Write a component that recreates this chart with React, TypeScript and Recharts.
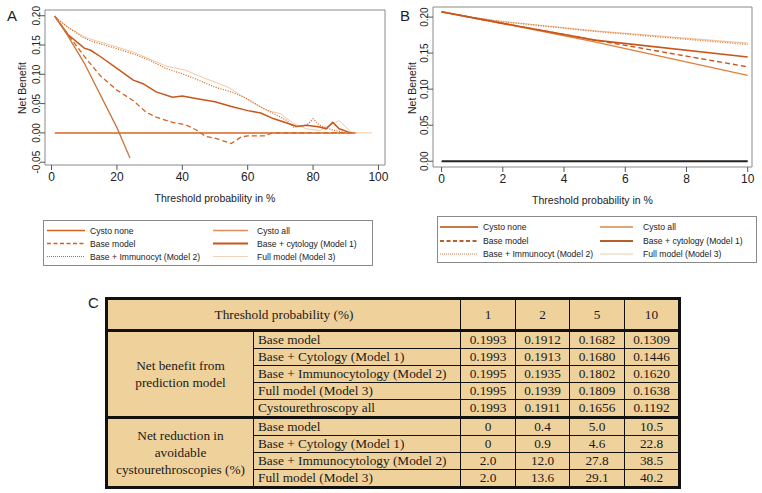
import React from 'react';
import { LineChart, Line, XAxis, YAxis, ReferenceArea } from 'recharts';

// ---- Panel A (threshold 0-100 %) ----
const aCystoNoneX = [1, 93];
const aCystoNoneY = [0, 0];
const aCystoAllX = [1, 5, 10, 15, 20, 24];
const aCystoAllY = [0.1993, 0.1656, 0.1192, 0.064, 0.009, -0.043];
const aBaseX = [1, 2, 5, 10, 15, 20, 25, 29, 32, 37, 41, 45, 47, 50, 55, 58, 60, 65, 67.5, 92];
const aBaseY = [0.1993, 0.1912, 0.1682, 0.1309, 0.097, 0.073, 0.055, 0.035, 0.027, 0.018, 0.014, 0.003, -0.006, -0.009, -0.018, -0.007, -0.005, -0.005, 0, 0];
const aModel1X = [1, 2, 5, 10, 12, 15, 20, 25, 28, 32, 37, 40, 45, 50, 55, 60, 64, 68, 72, 75, 78, 82, 84, 86, 88, 91.5];
const aModel1Y = [0.1993, 0.1913, 0.168, 0.1446, 0.141, 0.13, 0.11, 0.09, 0.084, 0.07, 0.061, 0.063, 0.058, 0.053, 0.045, 0.038, 0.034, 0.024, 0.017, 0.011, 0.013, 0.01, 0.007, 0.018, 0.007, 0];
const aModel2X = [1, 2, 5, 10, 12, 18, 25, 30, 35, 40, 45, 50, 55, 60, 64, 68, 72, 74, 78, 80, 82, 86, 90];
const aModel2Y = [0.1995, 0.1935, 0.1802, 0.162, 0.157, 0.147, 0.135, 0.124, 0.11, 0.101, 0.09, 0.078, 0.07, 0.058, 0.044, 0.033, 0.021, 0.01, 0.013, 0.024, 0.013, 0.005, 0];
const aModel3X = [1, 2, 5, 10, 12, 18, 25, 35, 41, 47, 54, 58, 62, 66, 70, 74, 78, 82, 84, 88, 90, 92, 98];
const aModel3Y = [0.1995, 0.1939, 0.1809, 0.1638, 0.16, 0.15, 0.138, 0.114, 0.107, 0.093, 0.078, 0.064, 0.05, 0.038, 0.033, 0.016, 0.007, 0.004, 0.01, 0.021, 0.01, 0, 0];

// ---- Panel B (threshold 0-10 %) ----
const bX = [0, 1, 2, 5, 10];
const bCystoAllY = [0.2073, 0.1993, 0.1911, 0.1656, 0.1192];
const bBaseY = [0.2073, 0.1993, 0.1912, 0.1682, 0.1309];
const bModel1Y = [0.2073, 0.1993, 0.1913, 0.168, 0.1446];
const bModel2Y = [0.2073, 0.1995, 0.1935, 0.1802, 0.162];
const bModel3Y = [0.2073, 0.1995, 0.1939, 0.1809, 0.1638];
const bCystoNoneX = [0, 10];
const bCystoNoneY = [0, 0];

const aXTicks = [0, 20, 40, 60, 80, 100];
const aYTicks = [-0.05, 0, 0.05, 0.1, 0.15, 0.2];
const bXTicks = [0, 2, 4, 6, 8, 10];
const bYTicks = [0, 0.05, 0.1, 0.15, 0.2];

const legendLabels = [
  'Cysto none', 'Cysto all',
  'Base model', 'Base + cytology (Model 1)',
  'Base + Immunocyt (Model 2)', 'Full model (Model 3)',
];

// ---- Table C ----
const thresholds = ['1', '2', '5', '10'];
const nbRows = ['Base model', 'Base + Cytology (Model 1)', 'Base + Immunocytology (Model 2)', 'Full model (Model 3)', 'Cystourethroscopy all'];
const nbValues = [
  ['0.1993', '0.1912', '0.1682', '0.1309'],
  ['0.1993', '0.1913', '0.1680', '0.1446'],
  ['0.1995', '0.1935', '0.1802', '0.1620'],
  ['0.1995', '0.1939', '0.1809', '0.1638'],
  ['0.1993', '0.1911', '0.1656', '0.1192'],
];
const nrRows = ['Base model', 'Base + Cytology (Model 1)', 'Base + Immunocytology (Model 2)', 'Full model (Model 3)'];
const nrValues = [
  ['0', '0.4', '5.0', '10.5'],
  ['0', '0.9', '4.6', '22.8'],
  ['2.0', '12.0', '27.8', '38.5'],
  ['2.0', '13.6', '29.1', '40.2'],
];

const pts = (xs: number[], ys: number[]) => xs.map((x, i) => ({ x, y: ys[i] }));

const SANS = '"Liberation Sans", Arial, sans-serif';
const SERIF = '"Liberation Serif", "Times New Roman", serif';

const RotTick = (props: any) => {
  const { x, y, payload } = props;
  const px = x + 2;
  return (
    <text x={px} y={y} transform={`rotate(-90, ${px}, ${y})`} textAnchor="middle"
      fontSize={10} fill="#222" fontFamily={SANS}>
      {Number(payload.value).toFixed(2)}
    </text>
  );
};

interface Series { x: number[]; y: number[]; color: string; width: number; dash?: string }

const Panel = ({ series, xDomain, yDomain, xTicks, yTicks, width, height, margin }: {
  series: Series[]; xDomain: number[]; yDomain: number[]; xTicks: number[]; yTicks: number[];
  width: number; height: number; margin: any;
}) => (
  <LineChart width={width} height={height} margin={margin}>
    <XAxis dataKey="x" type="number" domain={xDomain} allowDataOverflow ticks={xTicks}
      axisLine={false} tickSize={5} tickLine={{ stroke: '#555' }} interval={0}
      tick={{ fontSize: 12, fill: '#222', fontFamily: SANS }} height={37}
      label={{ value: 'Threshold probability in %', position: 'insideBottom', offset: 0, fontSize: 10.5, fill: '#222', fontFamily: SANS }} />
    <YAxis dataKey="y" type="number" domain={yDomain} allowDataOverflow ticks={yTicks}
      axisLine={false} tickSize={5} tickMargin={2} tickLine={{ stroke: '#555' }} interval={0}
      tick={<RotTick />} width={30} />
    <ReferenceArea x1={xDomain[0]} x2={xDomain[1]} y1={yDomain[0]} y2={yDomain[1]}
      fill="none" stroke="#8a8a8a" strokeWidth={1} ifOverflow="visible" />
    {series.map((s, i) => (
      <Line key={i} data={pts(s.x, s.y)} dataKey="y" type="linear" dot={false} activeDot={false}
        stroke={s.color} strokeWidth={s.width} strokeDasharray={s.dash} isAnimationActive={false} />
    ))}
  </LineChart>
);

interface LegItem { color: string; width: number; dash?: string }

const LegendBox = ({ left, top, width, height, rowsY, col1, col2, items }: {
  left: number; top: number; width: number; height: number; rowsY: number[];
  col1: number[]; col2: number[]; items: LegItem[];
}) => (
  <svg style={{ position: 'absolute', left, top }} width={width} height={height}>
    <rect x={0.5} y={0.5} width={width - 1} height={height - 1} fill="#fff" stroke="#8a8a8a" />
    {items.map((it, i) => {
      const c = i % 2 === 0 ? col1 : col2;
      const y = rowsY[Math.floor(i / 2)];
      return (
        <g key={i}>
          <line x1={c[0]} x2={c[1]} y1={y} y2={y} stroke={it.color} strokeWidth={it.width} strokeDasharray={it.dash} />
          <text x={c[2]} y={y + 3} fontSize={8.6} fill="#222" fontFamily={SANS}>{legendLabels[i]}</text>
        </g>
      );
    })}
  </svg>
);

const legendA: LegItem[] = [
  { color: '#D4621C', width: 1.5 },
  { color: '#E39060', width: 1.5 },
  { color: '#D4621C', width: 1.5, dash: '4 2.5' },
  { color: '#C8581A', width: 1.8 },
  { color: '#D4621C', width: 1, dash: '1 1' },
  { color: '#F3D2B5', width: 1.2 },
];
const legendB: LegItem[] = [
  { color: '#C87941', width: 1.8 },
  { color: '#E5A675', width: 1.8 },
  { color: '#B8612E', width: 1.8, dash: '4 2.5' },
  { color: '#B85F2E', width: 2 },
  { color: '#D07A50', width: 1, dash: '1 1' },
  { color: '#F5DCC8', width: 1.5 },
];

const seriesA: Series[] = [
  { x: aModel3X, y: aModel3Y, color: '#F0C9A2', width: 1 },
  { x: aModel2X, y: aModel2Y, color: '#D4621C', width: 1.2, dash: '1 1.5' },
  { x: aBaseX, y: aBaseY, color: '#D4621C', width: 1.3, dash: '5 3' },
  { x: aModel1X, y: aModel1Y, color: '#C8561A', width: 1.5 },
  { x: aCystoAllX, y: aCystoAllY, color: '#C9773E', width: 1.3 },
  { x: aCystoNoneX, y: aCystoNoneY, color: '#D9641E', width: 1.5 },
];
const seriesB: Series[] = [
  { x: bX, y: bModel3Y, color: '#F0C9A2', width: 1.2 },
  { x: bX, y: bModel2Y, color: '#D9763A', width: 1.4, dash: '1 1.5' },
  { x: bX, y: bBaseY, color: '#C8561A', width: 1.4, dash: '5 3' },
  { x: bX, y: bCystoAllY, color: '#E07F3A', width: 1.4 },
  { x: bX, y: bModel1Y, color: '#C8561A', width: 1.6 },
  { x: bCystoNoneX, y: bCystoNoneY, color: '#222', width: 2 },
];

const cell: React.CSSProperties = { border: '1.5px solid #111', padding: '0 4px', height: 16, lineHeight: '16px', whiteSpace: 'nowrap' };
const num: React.CSSProperties = { ...cell, textAlign: 'center', padding: 0 };
const thick = '3px solid #111';

const panelLabel = (t: string, left: number, top: number) => (
  <div style={{ position: 'absolute', left, top, fontFamily: SANS, fontSize: 15, lineHeight: '15px', color: '#222' }}>{t}</div>
);

const yTitle = (left: number, top: number) => (
  <div style={{ position: 'absolute', left, top, width: 80, marginLeft: -40, textAlign: 'center', fontFamily: SANS, fontSize: 10.5,
    lineHeight: '12px', marginTop: -6, color: '#222', transform: 'rotate(-90deg)' }}>Net Benefit</div>
);

export default function App() {
  return (
    <div style={{ position: 'absolute', left: 0, top: 0, width: 762, height: 493, background: '#fff', overflow: 'hidden' }}>
      <div style={{ position: 'absolute', left: 0, top: 0 }}>
        <Panel series={seriesA} xDomain={[-2, 102]} yDomain={[-0.0548, 0.2098]} xTicks={aXTicks} yTicks={aYTicks}
          width={390} height={215} margin={{ top: 10, right: 5, bottom: 13, left: 15 }} />
      </div>
      <div style={{ position: 'absolute', left: 390, top: 0 }}>
        <Panel series={seriesB} xDomain={[-0.28, 10.14]} yDomain={[-0.008, 0.214]} xTicks={bXTicks} yTicks={bYTicks}
          width={372} height={215} margin={{ top: 7, right: 10, bottom: 11, left: 13 }} />
      </div>
      {panelLabel('A', 7, 8)}
      {panelLabel('B', 400, 8)}
      {panelLabel('C', 88, 295)}
      {yTitle(22, 88)}
      {yTitle(412, 88)}

      <LegendBox left={43} top={220} width={330} height={46} rowsY={[10.5, 23.5, 36.5]}
        col1={[4, 42, 47]} col2={[170, 205, 214]} items={legendA} />
      <LegendBox left={437} top={216} width={320} height={47} rowsY={[11, 25, 38]}
        col1={[3, 41, 46]} col2={[163, 196, 206]} items={legendB} />

      <table style={{ position: 'absolute', left: 105, top: 297, width: 573, borderCollapse: 'collapse', tableLayout: 'fixed',
        fontFamily: SERIF, fontSize: 13.3, color: '#1a1a1a', background: '#EFD19B', border: thick }}>
        <colgroup>
          <col style={{ width: 147 }} />
          <col style={{ width: 207 }} />
          <col style={{ width: 55 }} />
          <col style={{ width: 54 }} />
          <col style={{ width: 55 }} />
          <col style={{ width: 55 }} />
        </colgroup>
        <tbody>
          <tr>
            <td colSpan={2} style={{ ...cell, textAlign: 'center', height: 29, borderBottom: thick }}>Threshold probability (%)</td>
            {thresholds.map(t => <td key={t} style={{ ...num, height: 29, borderBottom: thick }}>{t}</td>)}
          </tr>
          {nbRows.map((r, i) => (
            <tr key={'nb' + i}>
              {i === 0 && (
                <td rowSpan={nbRows.length} style={{ ...cell, textAlign: 'center', lineHeight: '17px', borderBottom: thick }}>
                  Net benefit from<br />prediction model
                </td>
              )}
              <td style={{ ...cell, borderBottom: i === nbRows.length - 1 ? thick : cell.border }}>{r}</td>
              {nbValues[i].map((v, j) => (
                <td key={j} style={{ ...num, borderBottom: i === nbRows.length - 1 ? thick : cell.border }}>{v}</td>
              ))}
            </tr>
          ))}
          {nrRows.map((r, i) => (
            <tr key={'nr' + i}>
              {i === 0 && (
                <td rowSpan={nrRows.length} style={{ ...cell, textAlign: 'center', lineHeight: '17px' }}>
                  Net reduction in<br />avoidable<br />cystourethroscopies (%)
                </td>
              )}
              <td style={cell}>{r}</td>
              {nrValues[i].map((v, j) => <td key={j} style={num}>{v}</td>)}
            </tr>
          ))}
        </tbody>
      </table>
    </div>
  );
}
